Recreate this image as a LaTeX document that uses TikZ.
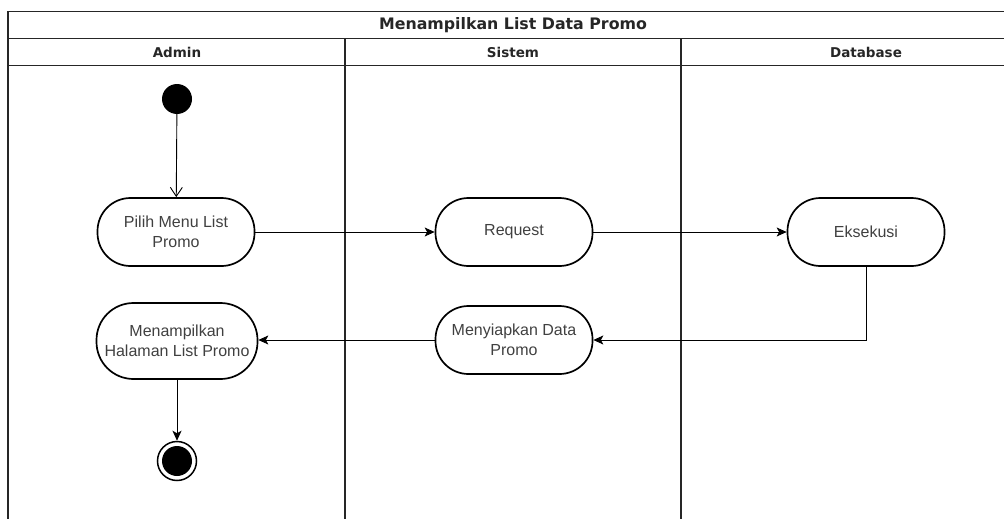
\documentclass[tikz,border=0pt]{standalone}
\usepackage{fontspec}
\setmainfont{Liberation Sans}
\newfontfamily\hdrfont{DejaVu Sans}
\usetikzlibrary{arrows.meta}
\begin{document}
\begin{tikzpicture}[x=1pt,y=-1pt,
  lane/.style={draw=black!85, line width=1.2pt},
  act/.style={draw=black, line width=1.7pt, rounded corners=33pt, minimum width=157pt, minimum height=68pt,
    align=center, inner sep=0pt, font=\fontsize{16}{20}\selectfont, text=black!75},
  hdr/.style={font=\hdrfont\bfseries\fontsize{13.5}{16}\selectfont, text=black!85, inner sep=0pt},
  flow/.style={draw=black, line width=0.9pt, -{Stealth[length=10pt,width=9pt,inset=2.5pt]}},
  openflow/.style={draw=black, line width=0.9pt, -{Straight Barb[length=9pt,width=12pt]}}]
\useasboundingbox (0,0) rectangle (1004,519);
% frame and lanes
\draw[lane] (8,521) -- (8,11.5) -- (1006,11.5);
\draw[lane] (8,38.5) -- (1006,38.5);
\draw[lane] (8,65.5) -- (1006,65.5);
\draw[lane] (345,38.5) -- (345,521);
\draw[lane] (681,38.5) -- (681,521);
% headers
\node[hdr, font=\hdrfont\bfseries\fontsize{15.8}{18}\selectfont] (title) at (513,25) {Menampilkan List Data Promo};
\node[hdr] (hadmin) at (177,52) {Admin};
\node[hdr] (hsistem) at (513,52) {Sistem};
\node[hdr] (hdb) at (866,52) {Database};
% nodes
\node[circle, fill=black, minimum size=30pt, inner sep=0pt] (start) at (177,99) {};
\node[act] (pilih) at (176,232) {Pilih Menu List\\Promo};
\node[act] (req) at (514,232) {Request};
\node[act] (eks) at (866,232) {Eksekusi};
\node[act] (siap) at (514,340) {Menyiapkan Data\\Promo};
\node[act, minimum width=161pt, minimum height=76pt, rounded corners=37pt] (tampil) at (177,341) {Menampilkan\\Halaman List Promo};
\node[circle, draw=black, line width=1.5pt, minimum size=39pt, inner sep=0pt] (endout) at (177,461) {};
\node[circle, fill=black, minimum size=30pt, inner sep=0pt] (endin) at (177,461) {};
% connectors
\draw[openflow] (start) -- (pilih);
\draw[flow] (pilih) -- (req);
\draw[flow] (req) -- (eks);
\draw[flow] (eks.south) |- (siap.east);
\draw[flow] (siap.west) -- (siap.west -| tampil.east);
\draw[flow] (tampil) -- (endout);
\end{tikzpicture}
\end{document}
